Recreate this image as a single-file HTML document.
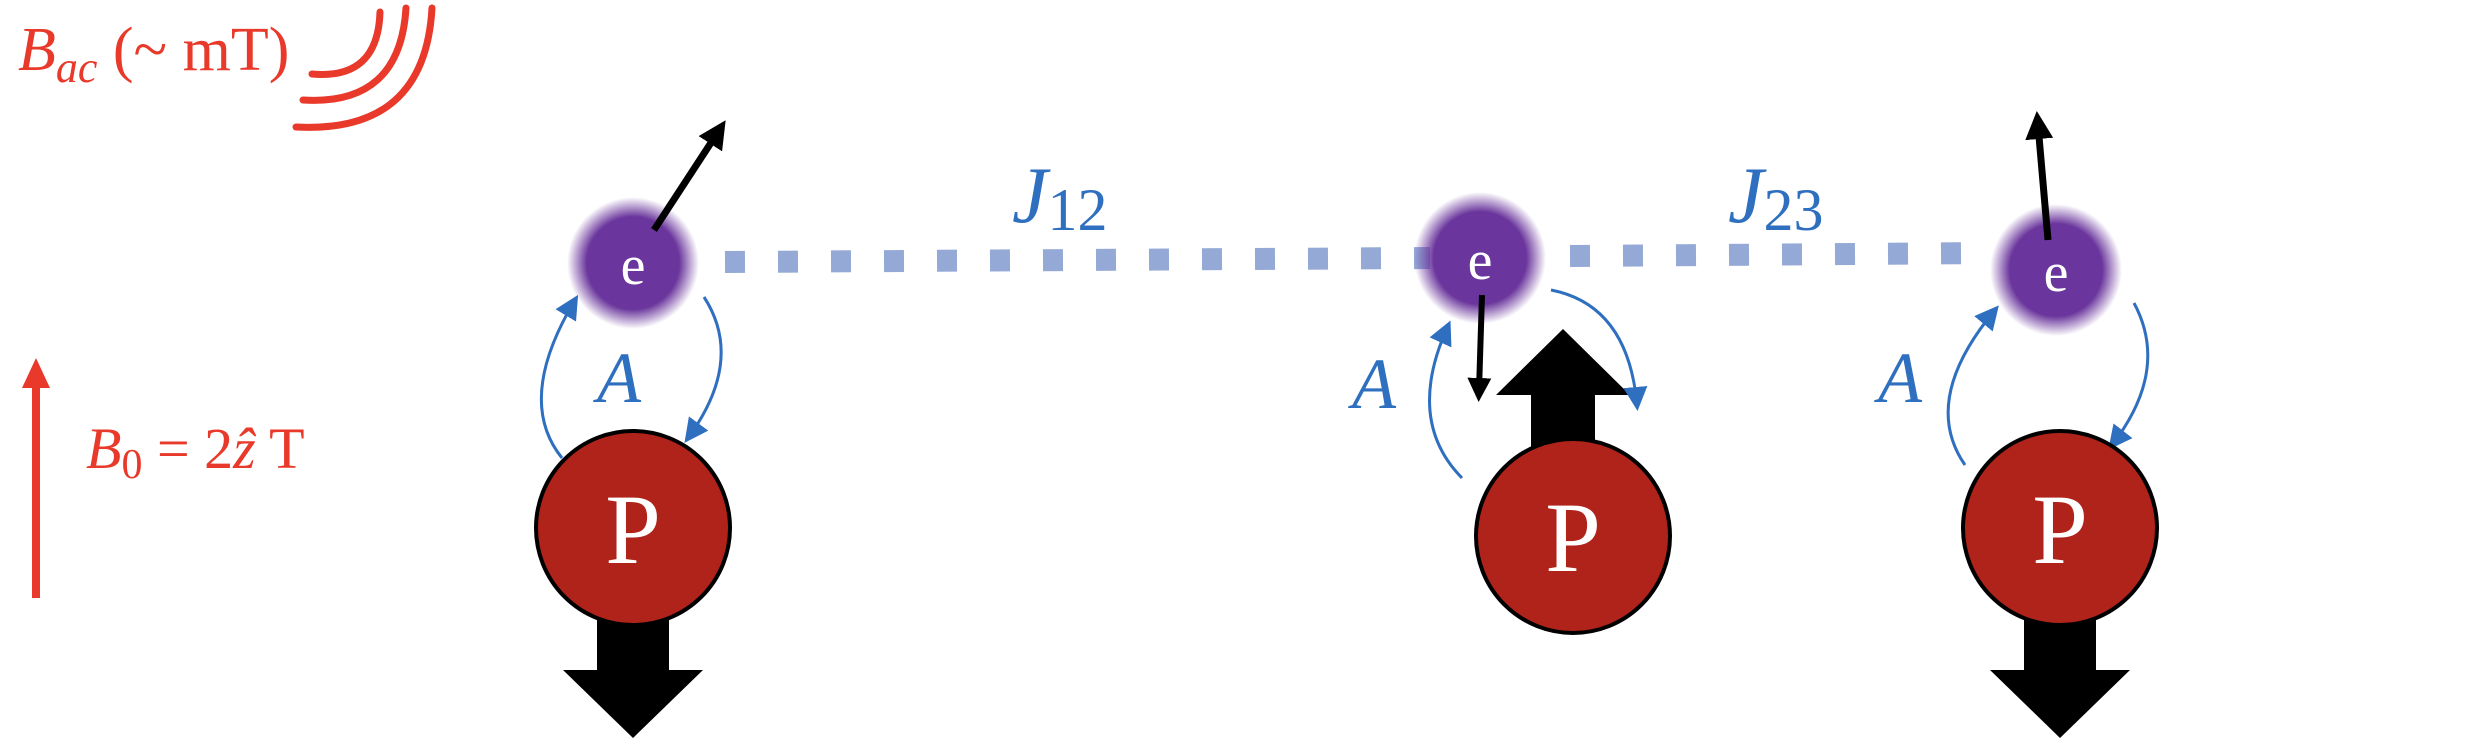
<!DOCTYPE html>
<html><head><meta charset="utf-8"><style>
html,body{margin:0;padding:0;background:#fff;width:2488px;height:748px;overflow:hidden}
svg{display:block}
text{font-family:"Liberation Serif",serif}
</style></head><body>
<svg width="2488" height="748" viewBox="0 0 2488 748" xmlns="http://www.w3.org/2000/svg">
<defs>
<radialGradient id="eg" cx="50%" cy="50%" r="50%">
<stop offset="0" stop-color="#6a359c"/><stop offset="0.7" stop-color="#6a359c"/><stop offset="1" stop-color="#6a359c" stop-opacity="0"/>
</radialGradient>
<marker id="bh" markerWidth="8" markerHeight="8" refX="6" refY="4" orient="auto" markerUnits="strokeWidth"><path d="M0,0 L8,4 L0,8 Z" fill="#2f6fbf"/></marker>
<marker id="kh" markerWidth="4" markerHeight="4" refX="2" refY="2" orient="auto" markerUnits="strokeWidth"><path d="M0,0 L4,2 L0,4 Z" fill="#000"/></marker>
</defs>

<g>
<text x="18" y="70" font-size="62" fill="#e8392a"><tspan font-style="italic">B</tspan><tspan font-style="italic" font-size="44" dy="12">ac</tspan><tspan dy="-12"> (~ mT)</tspan></text>
</g>
<g fill="none" stroke="#e8392a" stroke-width="7" stroke-linecap="round">
<path d="M312,74 Q378,80 380,12"/>
<path d="M303,100 Q400,106 406,8"/>
<path d="M296,127 Q425,134 432,8"/>
</g>

<g>
<line x1="36" y1="598" x2="36" y2="385" stroke="#e8392a" stroke-width="8"/>
<path d="M22,388 L36,358 L50,388 Z" fill="#e8392a"/>
</g>
<text x="86" y="468" font-size="58" fill="#e8392a"><tspan font-style="italic">B</tspan><tspan font-size="42" dy="10">0</tspan><tspan dy="-10"> = 2</tspan><tspan font-style="italic">ẑ</tspan><tspan> T</tspan></text>

<g stroke="#94a9d6" stroke-width="22" stroke-dasharray="20 33">
<line x1="725" y1="262" x2="1430" y2="258"/>
<line x1="1570" y1="256" x2="1990" y2="253"/>
</g>
<text x="1012" y="222" font-size="80" font-style="italic" fill="#2f6fbf">J<tspan font-style="normal" font-size="60" dy="8">12</tspan></text>
<text x="1728" y="222" font-size="80" font-style="italic" fill="#2f6fbf">J<tspan font-style="normal" font-size="60" dy="8">23</tspan></text>

<g>
<circle cx="633" cy="263" r="66" fill="url(#eg)"/>
<text x="633" y="284" font-size="56" fill="#fff" text-anchor="middle">e</text>
<line x1="654" y1="230" x2="718" y2="132" stroke="#000" stroke-width="7" marker-end="url(#kh)"/>
<path d="M562,458 Q515,400 575,300" fill="none" stroke="#2f6fbf" stroke-width="3" marker-end="url(#bh)"/>
<path d="M704,297 Q745,360 688,438" fill="none" stroke="#2f6fbf" stroke-width="3" marker-end="url(#bh)"/>
<text x="597" y="402" font-size="72" font-style="italic" fill="#2f6fbf">A</text>
<path d="M597,620 h72 v50 h34 l-70,68 l-70,-68 h34 Z" fill="#000"/>
<circle cx="633" cy="528" r="97" fill="#b0231a" stroke="#000" stroke-width="4"/>
<text x="633" y="563" font-size="100" fill="#fff" text-anchor="middle">P</text>
</g>

<g>
<path d="M1531,450 v-55 h-35 l67,-66 l67,66 h-35 v55 Z" fill="#000"/>
<circle cx="1480" cy="258" r="66" fill="url(#eg)"/>
<text x="1480" y="279" font-size="56" fill="#fff" text-anchor="middle">e</text>
<line x1="1482" y1="295" x2="1479" y2="390" stroke="#000" stroke-width="6" marker-end="url(#kh)"/>
<path d="M1462,478 Q1405,420 1448,326" fill="none" stroke="#2f6fbf" stroke-width="3" marker-end="url(#bh)"/>
<path d="M1551,290 Q1628,305 1637,405" fill="none" stroke="#2f6fbf" stroke-width="3" marker-end="url(#bh)"/>
<text x="1352" y="408" font-size="72" font-style="italic" fill="#2f6fbf">A</text>
<circle cx="1573" cy="536" r="97" fill="#b0231a" stroke="#000" stroke-width="4"/>
<text x="1573" y="571" font-size="100" fill="#fff" text-anchor="middle">P</text>
</g>

<g>
<circle cx="2056" cy="270" r="66" fill="url(#eg)"/>
<text x="2056" y="291" font-size="56" fill="#fff" text-anchor="middle">e</text>
<line x1="2048" y1="240" x2="2038" y2="125" stroke="#000" stroke-width="7" marker-end="url(#kh)"/>
<path d="M1965,465 Q1920,400 1995,310" fill="none" stroke="#2f6fbf" stroke-width="3" marker-end="url(#bh)"/>
<path d="M2134,303 Q2170,370 2112,445" fill="none" stroke="#2f6fbf" stroke-width="3" marker-end="url(#bh)"/>
<text x="1878" y="402" font-size="72" font-style="italic" fill="#2f6fbf">A</text>
<path d="M2024,620 h72 v50 h34 l-70,68 l-70,-68 h34 Z" fill="#000"/>
<circle cx="2060" cy="528" r="97" fill="#b0231a" stroke="#000" stroke-width="4"/>
<text x="2060" y="563" font-size="100" fill="#fff" text-anchor="middle">P</text>
</g>
</svg>
</body></html>
